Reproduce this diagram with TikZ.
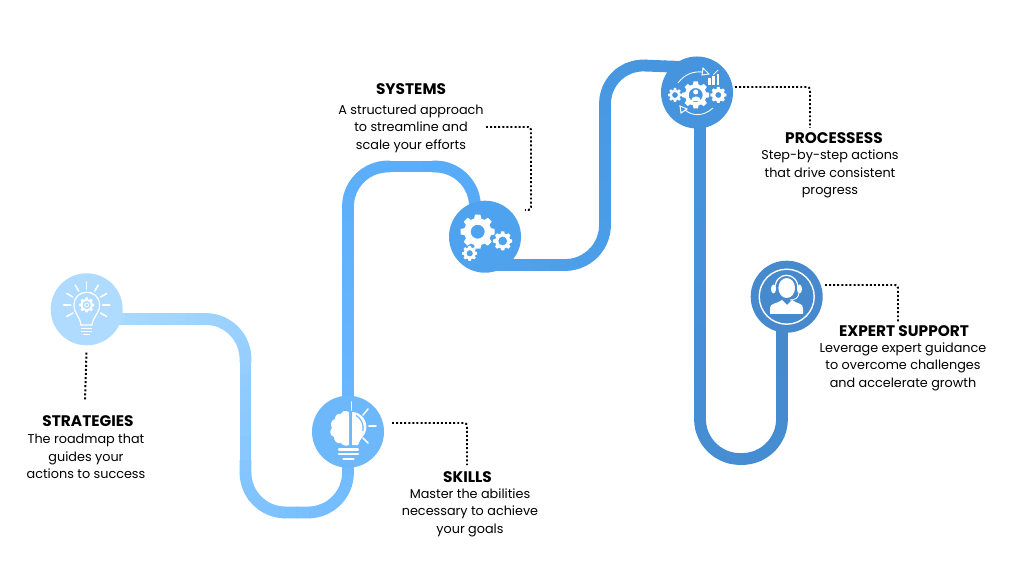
\documentclass[tikz,border=0pt]{standalone}
\usepackage{fontspec}
\setmainfont{Poppins}
\usetikzlibrary{backgrounds}
\definecolor{c1}{HTML}{AEDBFF}
\definecolor{c2}{HTML}{6DB7FB}
\definecolor{c2s}{HTML}{6AB7FF}
\definecolor{c2e}{HTML}{55A9F7}
\definecolor{c3}{HTML}{4FA2EE}
\definecolor{c4}{HTML}{4694DE}
\definecolor{c5}{HTML}{4689CC}
\tikzset{
    x=0.025cm, y=-0.025cm,
    stepdot/.style={circle, minimum size=1.8cm, inner sep=0pt},
    road/.style={line width=8.4pt, rounded corners=1cm, line join=round},
    dots/.style={line width=1.4pt, dash pattern=on 1.4pt off 1.5pt, rounded corners=2pt},
    title/.style={font=\fontsize{10.9}{12}\selectfont\bfseries, text=black},
    body/.style={font=\fontsize{9.1}{12.5}\selectfont, align=center, text=black},
    ray/.style={white, line width=1.1pt, line cap=round},
}
% gear: x, y, radius, hole, teeth
\newcommand{\gearicon}[5]{
    \fill[white, even odd rule] (#1,#2) circle (#3*0.8) (#1,#2) circle (#4);
    \foreach \a in {1,...,#5}
        \fill[white, rotate around={\a*360/#5:(#1,#2)}]
            (#1-#3*0.22,#2-#3*0.72) -- (#1-#3*0.16,#2-#3) -- (#1+#3*0.16,#2-#3) -- (#1+#3*0.22,#2-#3*0.72) -- cycle;
}
% road piece: from colour, to colour, length in pt, path
\newcommand{\roadpiece}[4]{
    \foreach \i in {0,...,39} {
        \pgfmathsetmacro\mixval{100-\i*100/39}
        \pgfmathsetmacro\startval{\i*#3/40}
        \pgfmathsetmacro\lenval{#3/40+0.6}
        \draw[road, color=#1!\mixval!#2, dash pattern=on 0pt off \startval pt on \lenval pt off 3000pt] #4;
    }
}
\begin{document}
\begin{tikzpicture}
    \useasboundingbox (0,0) rectangle (1024,576);

    % circles
    \node[stepdot, fill=c1] (strategies) at (86.7,309.3) {};
    \node[stepdot, fill=c2] (skills) at (348,431.7) {};
    \node[stepdot, fill=c3] (systems) at (485,236.7) {};
    \node[stepdot, fill=c4] (processes) at (697,92.5) {};
    \node[stepdot, fill=c5] (expert) at (786.7,296.7) {};

    % road
    \begin{scope}[on background layer]
        \roadpiece{c1}{c2s}{350}{(86.7,319) -- (245.5,319) -- (245.5,512.5) -- (348,512.5) -- (skills.center)}
        \roadpiece{c2s}{c2e}{305}{(skills.center) -- (348,166.5) -- (475,166.5) -- (475,225)}
        \roadpiece{c3}{c4}{265}{(485,265) -- (605,265) -- (605,64) -- (682,67)}
        \roadpiece{c4}{c5}{415}{(700,92.5) -- (700,459) -- (782,459) -- (782,297)}
    \end{scope}

    % dotted leaders
    \coordinate (strategiesEnd) at (85,400);
    \coordinate (skillsStart) at (392,423);
    \coordinate (skillsEnd) at (467,465);
    \coordinate (systemsStart) at (486,127);
    \coordinate (systemsEnd) at (525,210);
    \coordinate (processesStart) at (735,87);
    \coordinate (processesEnd) at (810,128);
    \coordinate (expertStart) at (825,285);
    \coordinate (expertEnd) at (898,322);
    \draw[dots, shorten <=5pt] (strategies.south) -- (strategiesEnd);
    \draw[dots] (skillsStart) -| (skillsEnd);
    \draw[dots] (systemsStart) -- (531,127) -- (531,210) -- (systemsEnd);
    \draw[dots] (processesStart) -| (processesEnd);
    \draw[dots] (expertStart) -| (expertEnd);

    % labels
    \node[title] (strategiesTitle) at (88,421) {STRATEGIES};
    \node[body] (strategiesText) at (86,456.5) {The roadmap that\\guides your\\actions to success};
    \node[title] (skillsTitle) at (467.5,477) {SKILLS};
    \node[body] (skillsText) at (470,512.5) {Master the abilities\\necessary to achieve\\your goals};
    \node[title] (systemsTitle) at (411,89) {SYSTEMS};
    \node[body] (systemsText) at (411,128.5) {A structured approach\\to streamline and\\scale your efforts};
    \node[title] (processesTitle) at (834,138) {PROCESSESS};
    \node[body] (processesText) at (830,174) {Step-by-step actions\\that drive consistent\\progress};
    \node[title] (expertTitle) at (904,331) {EXPERT SUPPORT};
    \node[body] (expertText) at (903,366.5) {Leverage expert guidance\\to overcome challenges\\and accelerate growth};

    % bulb icon
    \draw[white, line width=0.9pt] (81,325) .. controls (80,316) and (74,314) .. (74,305) .. controls (74,288) and (99.5,288) .. (99.5,305) .. controls (99.5,314) and (93,316) .. (92,325) -- cycle;
    \draw[white, line width=1pt] (81,328.5) -- (92,328.5) (81,331.5) -- (92,331.5) (83,334.5) -- (90,334.5);
    \gearicon{86.7}{305}{7.5}{4.3}{8}
    \draw[white, line width=0.6pt] (86.7,305) circle (2);
    \foreach \a in {-30,0,30,60,90,120,150,180,210}
        \draw[ray] ({86.7+16*cos(\a)},{305-16*sin(\a)}) -- ({86.7+23*cos(\a)},{305-23*sin(\a)});

    % brain and bulb icon
    \fill[white] (349,412) .. controls (345,410) and (342,411) .. (341,414) .. controls (337,413) and (335,416) .. (335,419) .. controls (331,420) and (330,425) .. (332,428) .. controls (329,431) and (330,436) .. (334,437) .. controls (334,441) and (337,444) .. (341,443) .. controls (343,446) and (347,446) .. (349,445) -- cycle;
    \fill[white] (352,412) .. controls (362,412) and (368,422) .. (366,430) .. controls (365,436) and (360,438) .. (358,445) -- (352,445) -- cycle;
    \draw[c2, line width=0.8pt] (356,415.5) .. controls (361,418) and (364,424) .. (363,431);
    \foreach \yy/\w in {449.5/9.5,454/9.5,459/5}
        \draw[white, line width=1.5pt, line cap=round] (348.5-\w,\yy) -- (348.5+\w,\yy);
    \draw[ray] (351.5,402) -- (351.5,410);
    \draw[ray] (363,415) -- (368,409);
    \draw[ray] (369,426) -- (376,426);
    \draw[ray] (363,438) -- (368,443);

    % gears icon
    \gearicon{477.7}{231.7}{17}{7}{8}
    \gearicon{502.7}{241}{9.5}{4.5}{8}
    \gearicon{469.7}{253.3}{7.5}{3.2}{8}

    % process icon
    \gearicon{695.7}{95}{13.5}{7}{8}
    \gearicon{675}{95}{7}{3}{8}
    \gearicon{718.3}{95}{8}{3}{8}
    \fill[white] (695.7,92) circle (2.5);
    \fill[white] (690.7,101) .. controls (690.7,95) and (700.7,95) .. (700.7,101) -- cycle;
    \draw[white, line width=0.6pt] (678,83) .. controls (684,75) and (692,71) .. (703,72);
    \draw[white, line width=0.6pt] (685,110) .. controls (692,116) and (703,117) .. (713,108);
    \draw[white, line width=0.7pt] (703,68) -- (709,74) -- (702,75) -- cycle;
    \draw[white, line width=0.7pt] (680,106) -- (687,109) -- (681,113) -- cycle;
    \fill[white] (708,78) rectangle (710.5,85);
    \fill[white] (712,76) rectangle (714.5,85);
    \fill[white] (716.5,74) rectangle (719,85);
    \draw[white, line width=0.5pt] (713,75) -- (718,70);

    % support icon
    \draw[white, line width=1pt] (786.7,296.7) circle (27.5);
    \fill[white] (786.7,288) ellipse (8.3 and 10);
    \draw[white, line width=0.9pt] (775,291) .. controls (773,270) and (800,270) .. (798,291);
    \fill[white] (773.5,289) ellipse (2.5 and 4.5);
    \fill[white] (799.5,289) ellipse (2.5 and 4.5);
    \draw[white, line width=0.6pt] (799,292) .. controls (799,298) and (795,300) .. (790,300);
    \fill[white] (770,314) -- (770,308) .. controls (770,303) and (777,304) .. (782,300) -- (787,305) -- (792,300) .. controls (797,304) and (803,303) .. (803,308) -- (803,314) -- cycle;
\end{tikzpicture}
\end{document}
